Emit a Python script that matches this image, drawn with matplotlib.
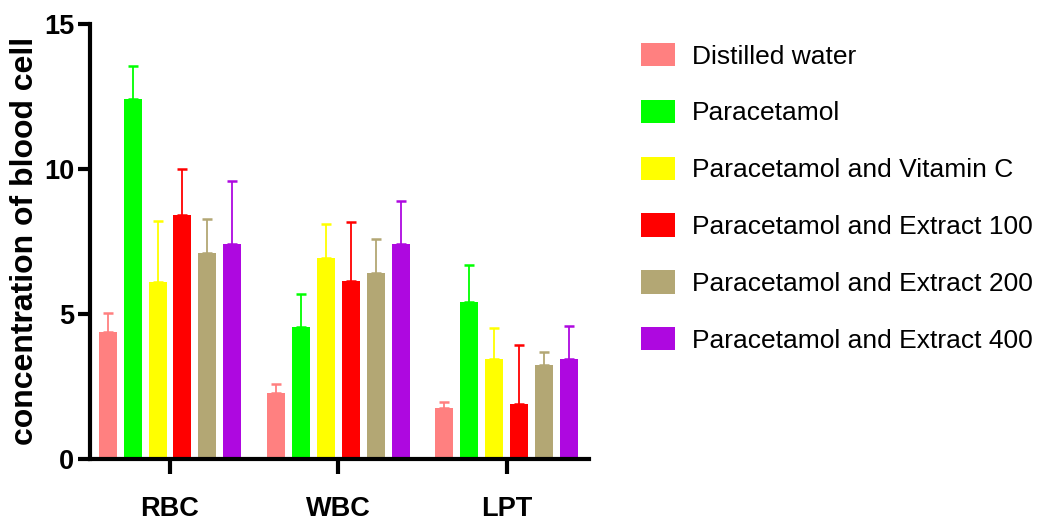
import matplotlib
matplotlib.use("Agg")
import matplotlib.pyplot as plt
import numpy as np
from matplotlib import font_manager

categories = ["RBC", "WBC", "LPT"]
groups = ["Distilled water", "Paracetamol", "Paracetamol and Vitamin C",
          "Paracetamol and Extract 100", "Paracetamol and Extract 200",
          "Paracetamol and Extract 400"]
means_dw = [4.38, 2.29, 1.76]
means_para = [12.41, 4.55, 5.43]
means_vitc = [6.10, 6.92, 3.44]
means_e100 = [8.41, 6.13, 1.89]
means_e200 = [7.10, 6.43, 3.24]
means_e400 = [7.41, 7.43, 3.44]
top_dw = [5.03, 2.60, 1.98]
top_para = [13.55, 5.70, 6.69]
top_vitc = [8.20, 8.09, 4.50]
top_e100 = [10.00, 8.18, 3.94]
top_e200 = [8.28, 7.59, 3.70]
top_e400 = [9.59, 8.90, 4.60]
colors = ["#FF8080", "#00FF00", "#FFFF00", "#FF0000", "#B3A774", "#AE08E0"]
yticks = [0, 5, 10, 15]

means = [means_dw, means_para, means_vitc, means_e100, means_e200, means_e400]
tops = [top_dw, top_para, top_vitc, top_e100, top_e200, top_e400]

names = {f.name for f in font_manager.fontManager.ttflist}
narrow = "Liberation Sans Narrow" if "Liberation Sans Narrow" in names else "Liberation Sans"
is_narrow = narrow == "Liberation Sans Narrow"

fig = plt.figure(figsize=(10.42, 5.22), dpi=100)
ax = fig.add_axes([0.0864, 0.1207, 0.4789, 0.8333])

x = np.arange(len(categories))
pitch = 0.148
width = 0.107
handles = []
for i, (m, t, c, g) in enumerate(zip(means, tops, colors, groups)):
    pos = x + (i - 2.5) * pitch
    m = np.array(m)
    err = np.array(t) - m
    b = ax.bar(pos, m, width=width, color=c, label=g, zorder=2)
    ax.errorbar(pos, m, yerr=[np.zeros_like(err), err], fmt="none", ecolor=c,
                elinewidth=1.3, capsize=3.6, capthick=1.8, zorder=1)
    handles.append(b)

ax.set_xlim(-0.475, 2.49)
ax.set_ylim(0, 15)
ax.set_yticks(yticks)
ax.set_xticks(x)
ax.set_xticklabels(categories)
for s in ["top", "right"]:
    ax.spines[s].set_visible(False)
for s in ["left", "bottom"]:
    ax.spines[s].set_linewidth(3)
ax.tick_params(axis="y", length=8.5, width=3, pad=3)
ax.tick_params(axis="x", length=11, width=3, pad=15.5)
tsize = 22 if is_narrow else 19.5
for lab in ax.get_yticklabels() + ax.get_xticklabels():
    lab.set_fontfamily(narrow)
    lab.set_fontweight("bold")
    lab.set_fontsize(tsize)

fig.text(0.024, 0.538, "concentration of blood cell", rotation=90, ha="center",
         va="center", fontsize=23, fontweight="bold", family="Liberation Sans")

lsize = 23 if is_narrow else 19
fpx = lsize * 100 / 72
leg = fig.legend(handles=handles, labels=groups, loc="upper left",
                 bbox_to_anchor=(0.605, 0.938), frameon=False,
                 prop={"family": narrow, "size": lsize},
                 handlelength=34 / fpx,
                 handleheight=26 / fpx,
                 handletextpad=17 / fpx,
                 labelspacing=(57.5 - fpx) / fpx, borderaxespad=0)

fig.savefig("out.png", dpi=100)
